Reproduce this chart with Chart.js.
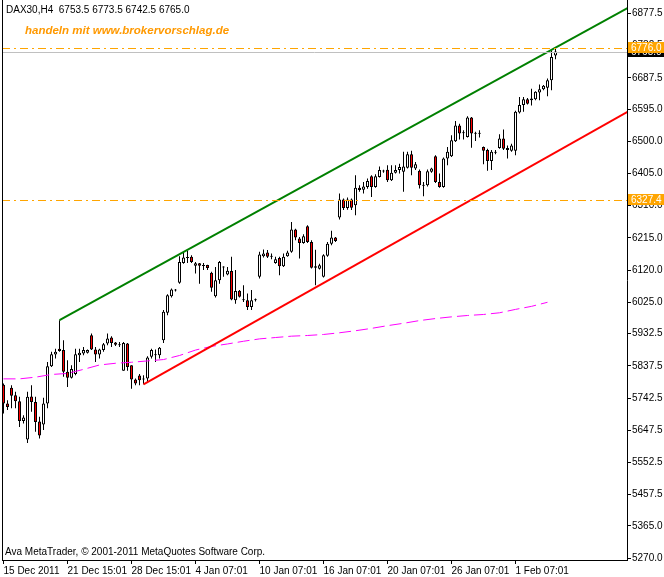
<!DOCTYPE html>
<html lang="de">
<head>
<meta charset="UTF-8">
<title>DAX30,H4</title>
<style>
  html, body { margin: 0; padding: 0; background: #fff; }
  #wrap { width: 664px; height: 577px; }
</style>
</head>
<body>
<div id="wrap"><canvas id="chart" width="664" height="577"></canvas></div>

<script src="https://cdn.jsdelivr.net/npm/chart.js"></script>
<script>
// H4 candles, one entry per bar
const opens = [5782,5726,5773,5751,5733,5675,5620,5747,5731,5673,5664,5726,5836,5871,5888,5884,5820,5802,5813,5869,
  5874,5876,5928,5886,5871,5884,5903,5921,5906,5898,5823,5903,5839,5797,5809,5798,5800,5864,5869,5869,
  5913,5994,6043,6060,6083,6141,6156,6159,6133,6140,6132,6135,6112,6043,6090,6128,6107,6117,6031,6059,
  6032,6031,6011,6031,6100,6161,6172,6161,6141,6156,6131,6161,6174,6240,6213,6200,6249,6203,6131,6124,
  6100,6162,6198,6216,6275,6328,6303,6328,6311,6363,6357,6365,6397,6365,6395,6411,6416,6385,6407,6415,
  6410,6422,6462,6420,6413,6371,6370,6410,6456,6380,6365,6449,6456,6500,6547,6524,6513,6570,6522,6524,
  6483,6474,6442,6466,6480,6508,6480,6472,6472,6585,6607,6624,6621,6624,6644,6654,6658,6680,6753.5];
const highs = [5785,5736,5780,5761,5746,5692,5761,5780,5746,5687,5743,5849,5879,5888,5972,5913,5854,5839,5888,5888,
  5893,5886,5933,5893,5888,5905,5933,5925,5908,5908,5908,5905,5839,5800,5813,5810,5866,5888,5886,5893,
  6002,6049,6066,6064,6161,6174,6177,6164,6144,6141,6141,6136,6115,6129,6147,6131,6129,6159,6120,6061,
  6075,6051,6061,6036,6174,6181,6179,6169,6159,6159,6169,6177,6262,6242,6218,6226,6252,6208,6180,6139,
  6167,6203,6236,6218,6346,6331,6334,6331,6400,6370,6380,6390,6400,6403,6426,6416,6429,6429,6429,6434,
  6469,6469,6472,6439,6417,6380,6417,6422,6459,6405,6452,6483,6518,6560,6552,6533,6574,6572,6528,6533,
  6485,6478,6474,6474,6521,6535,6488,6493,6590,6631,6631,6628,6655,6648,6668,6666,6685,6769,6773.5];
const lows = [5697,5707,5712,5712,5657,5667,5610,5702,5643,5623,5648,5712,5834,5859,5879,5805,5775,5800,5810,5849,
  5869,5874,5884,5849,5859,5879,5898,5893,5896,5893,5823,5823,5770,5780,5780,5783,5790,5859,5849,5859,
  5905,5987,6039,6057,6080,6139,6141,6141,6110,6080,6120,6120,6056,6039,6080,6100,6105,6031,6021,6039,
  6026,6002,6002,6027,6095,6157,6156,6152,6139,6105,6129,6159,6171,6208,6154,6198,6200,6125,6075,6122,
  6098,6159,6193,6203,6269,6297,6298,6297,6282,6351,6346,6360,6336,6363,6393,6407,6380,6383,6405,6405,
  6351,6420,6400,6415,6361,6338,6367,6407,6377,6363,6363,6429,6454,6498,6505,6505,6511,6481,6501,6511,
  6432,6413,6415,6462,6478,6474,6449,6469,6459,6582,6587,6609,6606,6621,6621,6651,6633,6651,6742.5];
const closes = [5726,5716,5749,5733,5675,5685,5746,5731,5672,5632,5726,5836,5872,5879,5881,5820,5802,5828,5872,5876,
  5884,5884,5886,5871,5886,5901,5918,5905,5900,5901,5905,5834,5797,5785,5795,5797,5862,5884,5872,5891,
  5997,6046,6063,6062,6144,6157,6158,6144,6140,6133,6135,6126,6068,6090,6144,6130,6118,6033,6058,6041,
  6031,6011,6031,6033,6166,6169,6159,6159,6152,6131,6159,6172,6240,6216,6200,6220,6203,6127,6127,6134,
  6164,6198,6216,6206,6328,6303,6328,6304,6363,6356,6367,6383,6365,6397,6415,6413,6385,6407,6415,6424,
  6426,6462,6422,6432,6370,6369,6412,6420,6380,6365,6449,6469,6503,6547,6523,6526,6570,6523,6524,6522,
  6472,6442,6469,6468,6508,6478,6474,6488,6587,6607,6624,6611,6626,6646,6654,6664,6680,6749,6765.0];

// moving average (magenta, dashed), read at every 4th bar
const maIdx = [0,4,8,12,16,20,24,28,32,36,40,44,48,52,56,60,64,68,72,76,80,84,88,92,96,100,104,108,112,116,120,124,128,132,136];
const maVals = [5799,5799,5804,5812,5815,5827,5840,5845,5848,5852,5856,5868,5884,5895,5902,5910,5917,5921,5925,5927,
  5930,5935,5941,5948,5956,5963,5971,5977,5982,5986,5989,5994,6004,6013,6025];

// trend channel: [bar, price] at each end
const upperLine = [[14, 5972], [156, 6893]];
const lowerLine = [[35, 5783], [156, 6587]];

// horizontal levels and the current bid
const levels = [6776.0, 6327.4];
const bidPrice = 6765.0;

// axis labels
const yTicks = [5270, 5365, 5457.5, 5552.5, 5647.5, 5742.5, 5837.5, 5932.5, 6025, 6120, 6215, 6310, 6405, 6500, 6595, 6687.5, 6782.5, 6877.5];
const xTickIdx = [0, 16, 32, 48, 64, 80, 96, 112, 128];
const xTickText = ['15 Dec 2011', '21 Dec 15:01', '28 Dec 15:01', '4 Jan 07:01', '10 Jan 07:01', '16 Jan 07:01', '20 Jan 07:01', '26 Jan 07:01', '1 Feb 07:01'];

const FONT = "'Liberation Sans', Arial, sans-serif";
Chart.defaults.font.family = FONT;
Chart.defaults.font.size = 10;
Chart.defaults.color = '#000';

const bars = opens.map((o, i) => i);
const last = opens.length - 1;

const overlay = {
  id: 'overlay',
  afterDatasetsDraw(chart) {
    const {ctx, chartArea: a, scales: {y}} = chart;
    ctx.save();
    ctx.beginPath();
    ctx.rect(a.left, a.top, a.right - a.left, a.bottom - a.top);
    ctx.clip();
    ctx.lineWidth = 1;
    let py = Math.round(y.getPixelForValue(bidPrice)) + 0.5;
    ctx.strokeStyle = '#c0c0c0';
    ctx.beginPath(); ctx.moveTo(a.left, py); ctx.lineTo(a.right, py); ctx.stroke();
    ctx.strokeStyle = '#ffa500';
    ctx.setLineDash([8, 4, 2, 4]);
    levels.forEach(v => {
      py = Math.round(y.getPixelForValue(v)) + 0.5;
      ctx.beginPath(); ctx.moveTo(a.left, py); ctx.lineTo(a.right, py); ctx.stroke();
    });
    ctx.restore();
  },
  afterDraw(chart) {
    const {ctx, chartArea: a, scales: {y}} = chart;
    ctx.save();
    // left frame
    ctx.strokeStyle = '#000';
    ctx.lineWidth = 1;
    ctx.beginPath(); ctx.moveTo(a.left + 0.5, a.top); ctx.lineTo(a.left + 0.5, a.bottom); ctx.stroke();

    ctx.textBaseline = 'middle';
    ctx.fillStyle = '#000';
    ctx.font = '10px ' + FONT;
    const ohlc = [opens[last], highs[last], lows[last], closes[last]].map(v => v.toFixed(1)).join(' ');
    ctx.fillText('DAX30,H4  ' + ohlc, 6, 10);
    ctx.fillText('Ava MetaTrader, \u00a9 2001-2011 MetaQuotes Software Corp.', 5, 552);

    ctx.fillStyle = '#ff9900';
    ctx.font = "italic bold 11.5px 'Liberation Sans', Arial, sans-serif";
    ctx.fillText('handeln mit www.brokervorschlag.de', 25, 31);

    // price tags on the right axis
    ctx.font = '10px ' + FONT;
    const tag = (v, bg) => {
      const py = Math.round(y.getPixelForValue(v));
      ctx.fillStyle = bg;
      ctx.fillRect(a.right + 1, py - 6, 36, 11);
      ctx.fillStyle = '#fff';
      ctx.fillText(v.toFixed(1), a.right + 4, py);
    };
    tag(bidPrice, '#000');
    levels.forEach(v => tag(v, '#ffa500'));
    ctx.restore();
  }
};

new Chart(document.getElementById('chart'), {
  type: 'bar',
  data: {
    datasets: [
      {
        type: 'line', label: 'upper', data: upperLine.map(p => ({x: p[0], y: p[1]})),
        borderColor: '#008000', borderWidth: 2, pointRadius: 0, tension: 0, order: 0
      },
      {
        type: 'line', label: 'lower', data: lowerLine.map(p => ({x: p[0], y: p[1]})),
        borderColor: '#ff0000', borderWidth: 2, pointRadius: 0, tension: 0, order: 0
      },
      {
        type: 'line', label: 'MA', data: maIdx.map((b, k) => ({x: b, y: maVals[k]})),
        borderColor: '#ff00ff', borderWidth: 1, borderDash: [12, 5], pointRadius: 0, tension: 0, order: 1
      },
      {
        label: 'body', data: bars.map(i => ({x: i, y: [opens[i], closes[i]]})),
        backgroundColor: bars.map(i => closes[i] >= opens[i] ? '#ffffff' : '#ff0000'),
        borderColor: '#000', borderWidth: 1, borderSkipped: false, inflateAmount: 0,
        barThickness: 3, minBarLength: 1, grouped: false, order: 2
      },
      {
        label: 'wick', data: bars.map(i => ({x: i, y: [lows[i], highs[i]]})),
        backgroundColor: '#000', borderWidth: 0, inflateAmount: 0,
        barThickness: 1, grouped: false, order: 3
      }
    ]
  },
  options: {
    responsive: false,
    animation: false,
    devicePixelRatio: 1,
    events: [],
    layout: { padding: { left: 2, top: 0, right: 0, bottom: 0 } },
    plugins: { legend: { display: false }, tooltip: { enabled: false } },
    scales: {
      x: {
        type: 'linear', min: -0.375, max: 155.875, offset: false,
        afterBuildTicks: s => { s.ticks = xTickIdx.map(v => ({value: v})); },
        afterFit: s => { s.height = 17; s.paddingLeft = 0; s.paddingRight = 0; },
        ticks: {
          autoSkip: false, maxRotation: 0, minRotation: 0, align: 'start', padding: 1,
          callback: v => xTickText[xTickIdx.indexOf(v)]
        },
        grid: { display: true, drawOnChartArea: false, drawTicks: true, tickLength: 4, color: '#000', offset: false },
        border: { display: true, color: '#000' }
      },
      y: {
        position: 'right', min: 5264.5, max: 6917,
        afterBuildTicks: s => { s.ticks = yTicks.map(v => ({value: v})); },
        afterFit: s => { s.width = 37; s.paddingTop = 0; s.paddingBottom = 0; },
        ticks: { autoSkip: false, padding: 1, callback: v => v.toFixed(1) },
        grid: { display: true, drawOnChartArea: false, drawTicks: true, tickLength: 4, color: '#000' },
        border: { display: true, color: '#000' }
      }
    }
  },
  plugins: [overlay]
});
</script>
</body>
</html>
